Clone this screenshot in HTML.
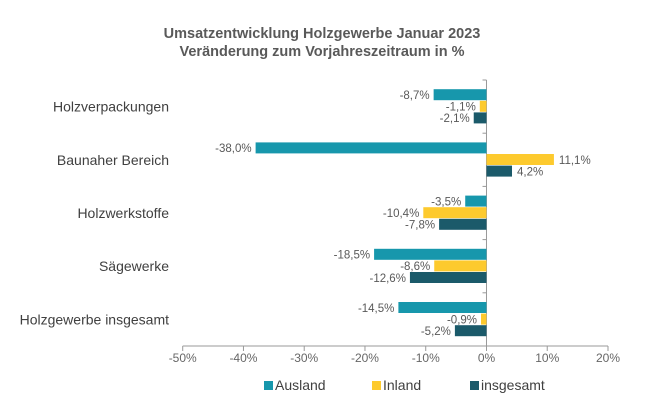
<!DOCTYPE html>
<html><head><meta charset="utf-8"><style>
body{margin:0;background:#fff;}
svg{display:block;font-family:"Liberation Sans",Arial,sans-serif;}
</style></head><body>
<svg id="c" width="655" height="420">
<text x="322" y="38" text-anchor="middle" font-size="14.5" font-weight="bold" fill="#595959">Umsatzentwicklung Holzgewerbe Januar 2023</text>
<text x="322" y="56" text-anchor="middle" font-size="14.5" font-weight="bold" fill="#595959">Veränderung zum Vorjahreszeitraum in %</text>
<g id="plot"></g>
</svg>
<script>
const categories=["Holzverpackungen","Baunaher Bereich","Holzwerkstoffe","Sägewerke","Holzgewerbe insgesamt"];
const seriesNames=["Ausland","Inland","insgesamt"];
const ausland=[-8.7,-38.0,-3.5,-18.5,-14.5];
const inland=[-1.1,11.1,-10.4,-8.6,-0.9];
const insgesamt=[-2.1,4.2,-7.8,-12.6,-5.2];
const ticks=[-50,-40,-30,-20,-10,0,10,20];
const colors=["#1797ac","#fdca2e","#1b5a6a"];
const series=[ausland,inland,insgesamt];
const NS="http://www.w3.org/2000/svg";
const g=document.getElementById('plot');
const x0=182.7,x1=608,vmin=-50,vmax=20,yTop=80,yBottom=346;
const X=v=>x0+(v-vmin)/(vmax-vmin)*(x1-x0);
const band=(yBottom-yTop)/categories.length;
const bh=11.6;
function el(t,a,txt){const e=document.createElementNS(NS,t);for(const k in a)e.setAttribute(k,a[k]);if(txt!=null)e.textContent=txt;g.appendChild(e);return e;}
let ax=el('line',{x1:x0,x2:x1,y1:yBottom,y2:yBottom,stroke:'#999','stroke-width':1});


ticks.forEach(t=>{
 let l=el('line',{x1:X(t),x2:X(t),y1:yBottom,y2:yBottom+5,stroke:'#999'});
 
 
 let tx=el('text',{x:X(t),y:yBottom+16,'text-anchor':'middle','font-size':12,fill:'#666'},t+'%');
 
 
});
let zl=el('line',{x1:X(0),x2:X(0),y1:yTop,y2:yBottom,stroke:'#999'});


for(let i=0;i<=categories.length;i++){
 let tk=el('line',{x1:X(0)-4,x2:X(0),y1:yTop+i*band,y2:yTop+i*band,stroke:'#999'});
 
 
}
categories.forEach((c,i)=>{
 const cy=yTop+i*band+band/2;
 let t=el('text',{x:169,y:cy+5,'text-anchor':'end','font-size':14,fill:'#404040'},c);
 
 
 series.forEach((s,j)=>{
  const v=s[i];const y=cy-bh*1.5+j*bh;
  const xa=Math.min(X(0),X(v)),w=Math.abs(X(v)-X(0));
  let r=el('rect',{x:xa,y:y,width:w,height:bh-0.6,fill:colors[j]});
  
  
  const lbl=v.toFixed(1).replace('.',',')+'%';
  let lt=el('text',{x:v<0?X(v)-4:X(v)+5,y:y+bh/2+4,'text-anchor':v<0?'end':'start','font-size':11.5,fill:'#595959'},lbl);
  
  
 });
});
const legX=[264,372,470];
seriesNames.forEach((n,j)=>{
 let sq=el('rect',{x:legX[j],y:381,width:9,height:9,fill:colors[j]});
 
 
 let t=el('text',{x:legX[j]+11,y:390,'font-size':14,fill:'#404040'},n);
 
 
});
</script>
</body></html>
